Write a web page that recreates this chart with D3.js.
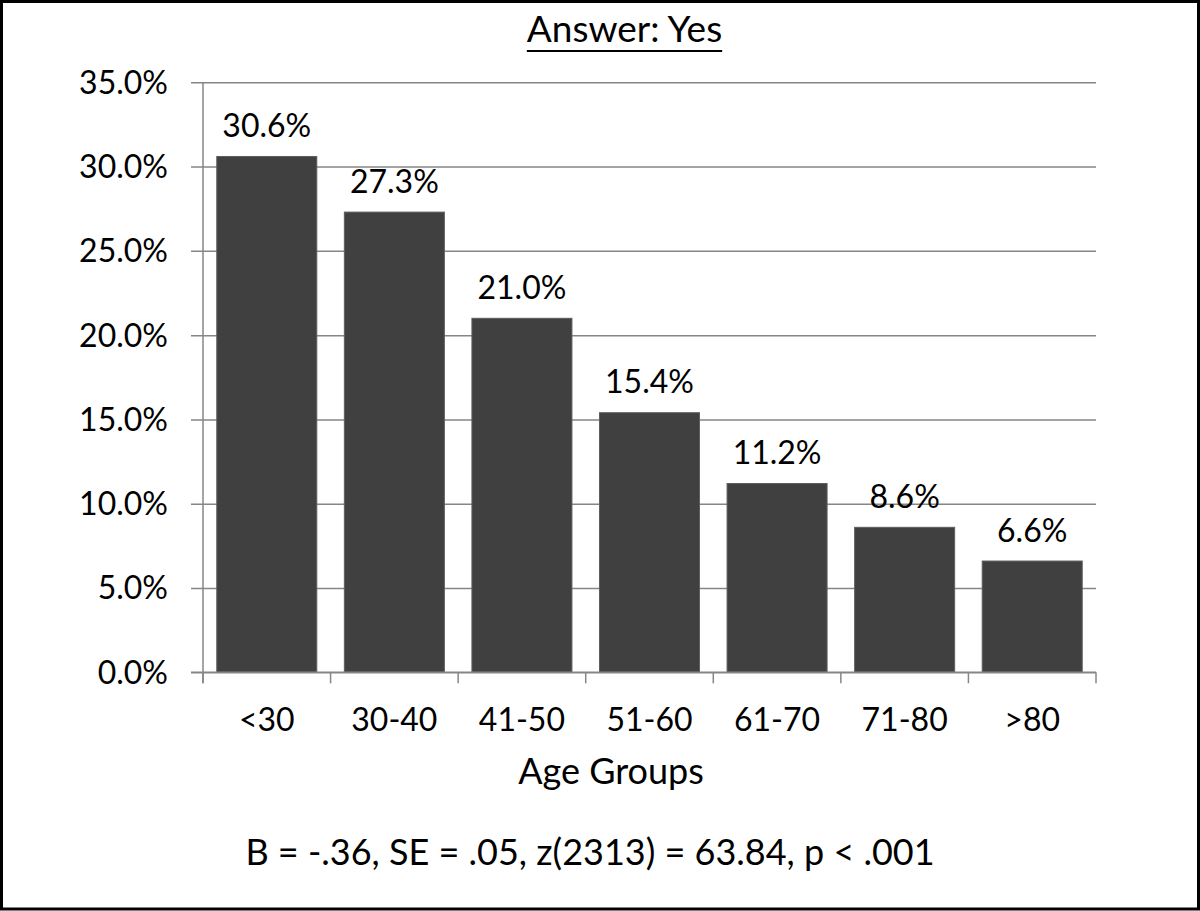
<!DOCTYPE html>
<html>
<head>
<meta charset="utf-8">
<script src="https://cdn.jsdelivr.net/npm/d3@7"></script>
<style>
  html, body { margin: 0; padding: 0; background: #fff; }
  svg { display: block; }
  text { font-family: Lato, "Open Sans", sans-serif; fill: #000; }
</style>
</head>
<body>
<svg id="chart" width="1200" height="911"></svg>
<script>
const categories = ["<30", "30-40", "41-50", "51-60", "61-70", "71-80", ">80"];
const values = [0.306, 0.273, 0.210, 0.154, 0.112, 0.086, 0.066];
const yTicks = [0, 0.05, 0.10, 0.15, 0.20, 0.25, 0.30, 0.35];
const titleText = "Answer: Yes";
const xTitleText = "Age Groups";
const footnoteText = "B = -.36, SE = .05, z(2313) = 63.84, p < .001";

const svg = d3.select("#chart");
const W = 1200, H = 911;
const plot = { left: 203, right: 1096, top: 82.3, bottom: 672.3 };
const fs = 32;
const fsText = 36;

svg.append("rect").attr("x", 0).attr("y", 0).attr("width", W).attr("height", H).attr("fill", "#fff");

const x = d3.scaleBand().domain(categories).range([plot.left, plot.right])
  .paddingInner(0.216).paddingOuter(0.108);
const y = d3.scaleLinear().domain([0, 0.35]).range([plot.bottom, plot.top]);
const fmt = d3.format(".1%");

// gridlines + y ticks
const yAxis = d3.axisLeft(y).tickValues(yTicks).tickFormat(fmt)
  .tickSize(-(plot.right - plot.left)).tickSizeOuter(0).tickPadding(35);
const gy = svg.append("g").attr("transform", `translate(${plot.left},0)`).call(yAxis);
gy.select(".domain").remove();
gy.selectAll(".tick line").attr("stroke", "#868686").attr("stroke-width", 1.5).attr("x1", -12);
gy.selectAll(".tick text").attr("font-size", fs).attr("font-family", "Lato").attr("fill", "#000").attr("dy", "0.34em");

// y axis line
svg.append("line").attr("x1", plot.left).attr("x2", plot.left)
  .attr("y1", plot.top).attr("y2", plot.bottom + 11)
  .attr("stroke", "#868686").attr("stroke-width", 1.5);

// bars
svg.append("g").selectAll("rect").data(categories).join("rect")
  .attr("x", d => x(d)).attr("width", x.bandwidth())
  .attr("y", (d, i) => y(values[i]))
  .attr("height", (d, i) => y(0) - y(values[i]))
  .attr("fill", "#404040").attr("stroke", "#5e5e5e").attr("stroke-width", 1);

// x axis: boundary ticks
const bounds = categories.map(c => x(c) - x.step() * x.paddingInner() / 2).concat([plot.right]);
svg.append("g").selectAll("line").data(bounds).join("line")
  .attr("x1", d => d).attr("x2", d => d)
  .attr("y1", plot.bottom).attr("y2", plot.bottom + 11)
  .attr("stroke", "#868686").attr("stroke-width", 1.5);
svg.append("line").attr("x1", plot.left - 12).attr("x2", plot.right)
  .attr("y1", plot.bottom).attr("y2", plot.bottom)
  .attr("stroke", "#868686").attr("stroke-width", 1.5);

// category labels
svg.append("g").selectAll("text").data(categories).join("text")
  .attr("x", d => x(d) + x.bandwidth() / 2).attr("y", 730.5)
  .attr("text-anchor", "middle").attr("font-size", fs).text(d => d);

// data labels
svg.append("g").selectAll("text").data(categories).join("text")
  .attr("x", d => x(d) + x.bandwidth() / 2)
  .attr("y", (d, i) => y(values[i]) - 19.5)
  .attr("text-anchor", "middle").attr("font-size", fs)
  .text((d, i) => fmt(values[i]));

// title
const title = svg.append("text").attr("x", 624.5).attr("y", 41.5)
  .attr("text-anchor", "middle").attr("font-size", 37).text(titleText);
const tb = title.node().getBBox();
svg.append("line").attr("x1", tb.x).attr("x2", tb.x + tb.width)
  .attr("y1", 51).attr("y2", 51).attr("stroke", "#000").attr("stroke-width", 2.2);

// axis title
svg.append("text").attr("x", 611).attr("y", 783.5)
  .attr("text-anchor", "middle").attr("font-size", fsText).text(xTitleText);

// footnote
svg.append("text").attr("x", 590).attr("y", 865)
  .attr("text-anchor", "middle").attr("font-size", fsText).text(footnoteText);

// outer border
svg.append("rect").attr("x", 1.5).attr("y", 1.5).attr("width", W - 3).attr("height", H - 3.5)
  .attr("fill", "none").attr("stroke", "#000").attr("stroke-width", 3);
</script>
</body>
</html>
